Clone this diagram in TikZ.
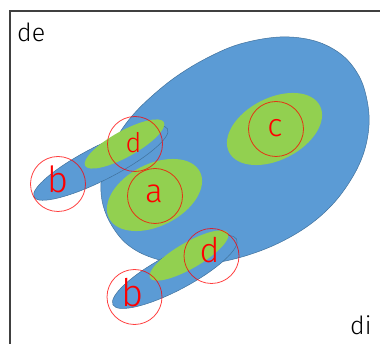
\documentclass[tikz,border=0pt]{standalone}
\usepackage{fontspec}
\setmainfont{Fira Sans}[UprightFont=* Light]
\definecolor{blobblue}{HTML}{5B9BD5}
\definecolor{blobedge}{HTML}{41719C}
\definecolor{leaf}{HTML}{92D050}
\definecolor{framegray}{HTML}{404040}
\begin{document}
\begin{tikzpicture}[x=1pt,y=-1pt,
  blob/.style={fill=blobblue, draw=blobedge, line width=0.5pt},
  leafy/.style={fill=leaf},
  ring/.style={circle, draw=red, draw opacity=0.75, line width=0.8pt, minimum size=55pt, inner sep=0pt},
  lbl/.style={text=red, inner sep=0pt, anchor=base},
  axis/.style={text=black, inner sep=0pt, anchor=base west, font=\fontsize{25}{25}\selectfont},
  frame/.style={draw=framegray, line width=1.2pt}]
\useasboundingbox (0,0) rectangle (380,344);
% frame
\coordinate (fb) at (10,344);
\coordinate (ftl) at (10,11);
\coordinate (ftr) at (380,11);
\draw[frame] (fb) -- (ftl) -- (ftr);
% big blob
\filldraw[blob] plot[smooth cycle, tension=0.6] coordinates {
 (240,44) (280,37) (315,41) (342,55) (359,76) (367,100) (369,125) (364,152)
 (352,178) (332,205) (305,228) (270,247) (230,260) (190,265) (153,258)
 (128,245) (112,226) (103,205) (101,183) (106,160) (117,137) (132,116)
 (152,96) (177,76) (207,58)};
% small blue ellipses
\filldraw[blob, rotate around={27:(100.8,163)}] (100.8,163) ellipse [x radius=75pt, y radius=17pt];
\filldraw[blob, rotate around={28:(174.8,272)}] (174.8,272) ellipse [x radius=70pt, y radius=18pt];
% green ellipses
\fill[leafy, rotate around={27:(274.5,129)}] (274.5,129) ellipse [x radius=51pt, y radius=31pt];
\fill[leafy, rotate around={27:(154.5,195)}] (154.5,195) ellipse [x radius=51pt, y radius=31pt];
\fill[leafy, rotate around={29:(124.5,144)}] (124.5,144) ellipse [x radius=45pt, y radius=13pt];
\fill[leafy, rotate around={30:(189,255.5)}] (189,255.5) ellipse [x radius=45pt, y radius=13pt];
% rings
\node[ring] (rc) at (276,129) {};
\node[ring] (ra) at (155,196) {};
\node[ring] (rd1) at (135,144) {};
\node[ring] (rb1) at (58,184) {};
\node[ring] (rd2) at (211.5,256) {};
\node[ring] (rb2) at (134.5,297) {};
% letters
\node[lbl, font=\fontsize{32}{32}\selectfont] (tc) at (275,136.7) {c};
\node[lbl, font=\fontsize{33}{33}\selectfont] (ta) at (154,203) {a};
\node[lbl, font=\fontsize{27}{27}\selectfont] (td1) at (133.5,153) {d};
\node[lbl, font=\fontsize{36}{36}\selectfont] (tb1) at (57.5,193) {b};
\node[lbl, font=\fontsize{34}{34}\selectfont] (td2) at (209.5,263) {d};
\node[lbl, font=\fontsize{38}{38}\selectfont] (tb2) at (132.5,307) {b};
% axis labels
\node[axis] (de) at (17,42) {de};
\node[axis] (di) at (350,335) {di};
\end{tikzpicture}
\end{document}
